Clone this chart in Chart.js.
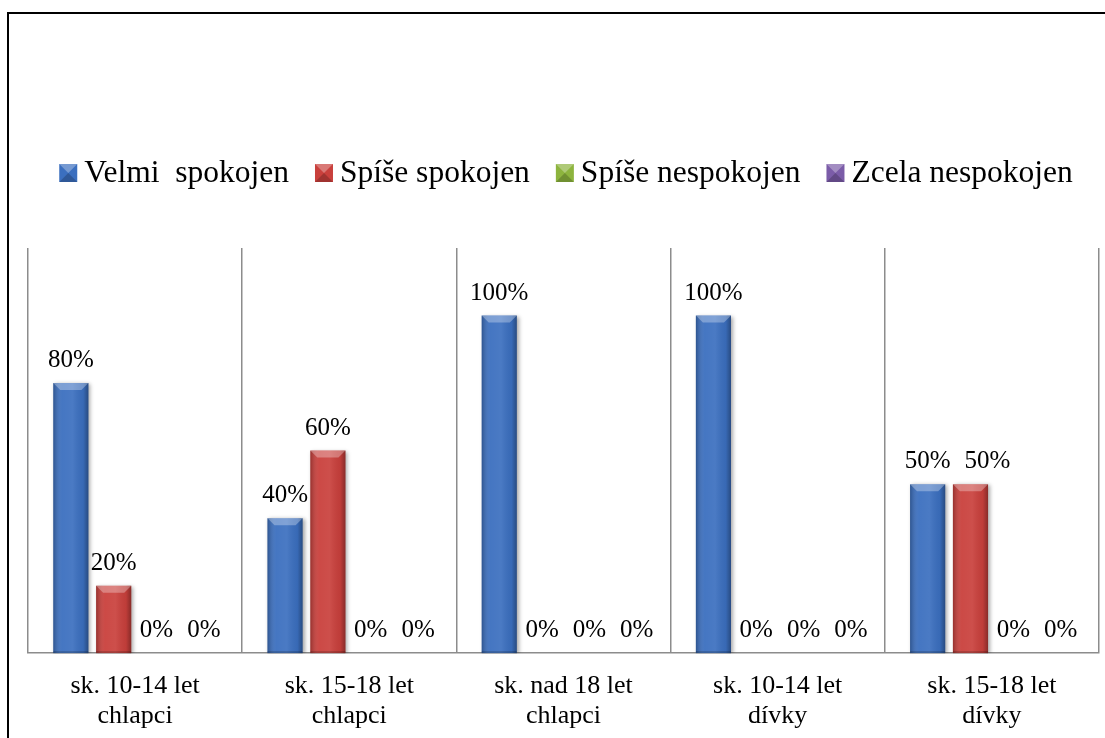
<!DOCTYPE html>
<html>
<head>
<meta charset="utf-8">
<script src="https://cdn.jsdelivr.net/npm/chart.js@4.4.1/dist/chart.umd.min.js"></script>
<style>
    body { margin: 0; background: #fff; overflow: hidden; }
    #wrap { position: relative; width: 1105px; height: 738px; overflow: hidden; }
    #frame { position: absolute; left: 7px; top: 12px; width: 1200px; height: 800px;
             border-left: 2px solid #000; border-top: 2px solid #000; }
    #chart { position: absolute; left: 0; top: 0; }
</style>
</head>
<body>
<div id="wrap">
    <div id="frame"></div>
    <canvas id="chart" width="1105" height="757"></canvas>
</div>
<script>
// categories and values (percent)
const categories = [
    ["sk. 10-14 let", "chlapci"],
    ["sk. 15-18 let", "chlapci"],
    ["sk. nad 18 let", "chlapci"],
    ["sk. 10-14 let", "dívky"],
    ["sk. 15-18 let", "dívky"]
];
const seriesNames = ["Velmi  spokojen", "Spíše spokojen", "Spíše nespokojen", "Zcela nespokojen"];
const velmiSpokojen = [80, 40, 100, 100, 50];
const spiseSpokojen = [20, 60, 0, 0, 50];
const spiseNespokojen = [0, 0, 0, 0, 0];
const zcelaNespokojen = [0, 0, 0, 0, 0];
const seriesColors = ["#3B6FBF", "#C9403C", "#8DB43E", "#7B5CA8"];

const FONT = "'Liberation Serif', 'Times New Roman', serif";

// bevel / shading on bars, like the office 3D style
const bevelPlugin = {
    id: 'bevel',
    beforeDatasetDraw(chart) {
        const ctx = chart.ctx;
        ctx.shadowColor = 'rgba(0,0,0,0.35)';
        ctx.shadowBlur = 4;
        ctx.shadowOffsetX = 2;
        ctx.shadowOffsetY = 1;
    },
    afterDatasetDraw(chart, args) {
        const ctx = chart.ctx;
        ctx.shadowColor = 'transparent';
        ctx.shadowBlur = 0;
        ctx.shadowOffsetX = 0;
        ctx.shadowOffsetY = 0;
        args.meta.data.forEach(bar => {
            const p = bar.getProps(['x', 'y', 'base', 'width'], true);
            const h = p.base - p.y;
            if (h < 1) return;
            const l = p.x - p.width / 2, r = p.x + p.width / 2;
            ctx.save();
            const g = ctx.createLinearGradient(l, 0, r, 0);
            g.addColorStop(0, 'rgba(0,0,0,0.25)');
            g.addColorStop(0.25, 'rgba(255,255,255,0.05)');
            g.addColorStop(0.55, 'rgba(255,255,255,0.08)');
            g.addColorStop(0.85, 'rgba(0,0,0,0.05)');
            g.addColorStop(1, 'rgba(0,0,0,0.32)');
            ctx.fillStyle = g;
            ctx.fillRect(l, p.y, p.width, h);
            const b = Math.min(7, h / 2);
            ctx.beginPath();
            ctx.moveTo(l, p.y);
            ctx.lineTo(r, p.y);
            ctx.lineTo(r - b, p.y + b);
            ctx.lineTo(l + b, p.y + b);
            ctx.closePath();
            ctx.fillStyle = 'rgba(255,255,255,0.3)';
            ctx.fill();
            ctx.fillStyle = 'rgba(0,0,0,0.2)';
            ctx.fillRect(l, p.base - 2, p.width, 2);
            ctx.restore();
        });
    }
};

// value labels above bars, nudged right when neighbours would collide
const valueLabels = {
    id: 'valueLabels',
    afterDatasetsDraw(chart) {
        const ctx = chart.ctx;
        ctx.save();
        ctx.font = '25px ' + FONT;
        ctx.fillStyle = '#000';
        ctx.textAlign = 'center';
        ctx.textBaseline = 'alphabetic';
        const minGap = 14;
        chart.data.labels.forEach((_, j) => {
            let prev = null;
            chart.data.datasets.forEach((ds, i) => {
                const bar = chart.getDatasetMeta(i).data[j];
                const text = ds.data[j] + '%';
                const w = ctx.measureText(text).width;
                const y = bar.y - 16;
                let x = bar.x;
                if (prev && Math.abs(prev.y - y) < 20) {
                    x = Math.max(x, prev.x + prev.w / 2 + minGap + w / 2);
                }
                ctx.fillText(text, x, y);
                prev = { x, y, w };
            });
        });
        ctx.restore();
    }
};

// legend drawn in one row above the plot
const topLegend = {
    id: 'topLegend',
    afterDraw(chart) {
        const ctx = chart.ctx;
        const box = 18, gapText = 7, gapItem = 26;
        ctx.save();
        ctx.font = '31.5px ' + FONT;
        const widths = chart.data.datasets.map(ds => ctx.measureText(ds.label).width);
        const total = widths.reduce((a, w) => a + box + gapText + w, 0) + gapItem * (widths.length - 1);
        let x = 566 - total / 2;
        const baseline = 182;
        chart.data.datasets.forEach((ds, i) => {
            const by = baseline - box;
            ctx.fillStyle = ds.backgroundColor;
            ctx.fillRect(x, by, box, box);
            // pyramid-like shading of the key
            ctx.fillStyle = 'rgba(255,255,255,0.3)';
            ctx.beginPath();
            ctx.moveTo(x, by); ctx.lineTo(x + box, by); ctx.lineTo(x + box / 2, by + box / 2); ctx.closePath();
            ctx.fill();
            ctx.fillStyle = 'rgba(0,0,0,0.2)';
            ctx.beginPath();
            ctx.moveTo(x, by + box); ctx.lineTo(x + box, by + box); ctx.lineTo(x + box / 2, by + box / 2); ctx.closePath();
            ctx.fill();
            ctx.fillStyle = '#000';
            ctx.textBaseline = 'alphabetic';
            ctx.fillText(ds.label, x + box + gapText, baseline);
            x += box + gapText + widths[i] + gapItem;
        });
        ctx.restore();
    }
};

const allSeries = [velmiSpokojen, spiseSpokojen, spiseNespokojen, zcelaNespokojen];

new Chart(document.getElementById('chart'), {
    type: 'bar',
    data: {
        labels: categories,
        datasets: allSeries.map((vals, i) => ({
            label: seriesNames[i],
            data: vals,
            backgroundColor: seriesColors[i],
            borderWidth: 0,
            categoryPercentage: 0.8,
            barPercentage: 0.82
        }))
    },
    options: {
        responsive: false,
        animation: false,
        devicePixelRatio: 1,
        layout: { padding: { top: 248, left: 28, right: 6, bottom: 8 } },
        plugins: {
            legend: { display: false },
            tooltip: { enabled: false }
        },
        scales: {
            x: {
                grid: { display: true, offset: true, color: '#8c8c8c', lineWidth: 1.5, drawTicks: false },
                border: { display: true, color: '#8c8c8c', width: 1.5 },
                ticks: {
                    color: '#000',
                    font: { family: FONT, size: 26, lineHeight: 1.15 },
                    padding: 18,
                    maxRotation: 0,
                    autoSkip: false
                }
            },
            y: {
                display: false,
                min: 0,
                max: 120
            }
        }
    },
    plugins: [bevelPlugin, valueLabels, topLegend]
});
</script>
</body>
</html>
